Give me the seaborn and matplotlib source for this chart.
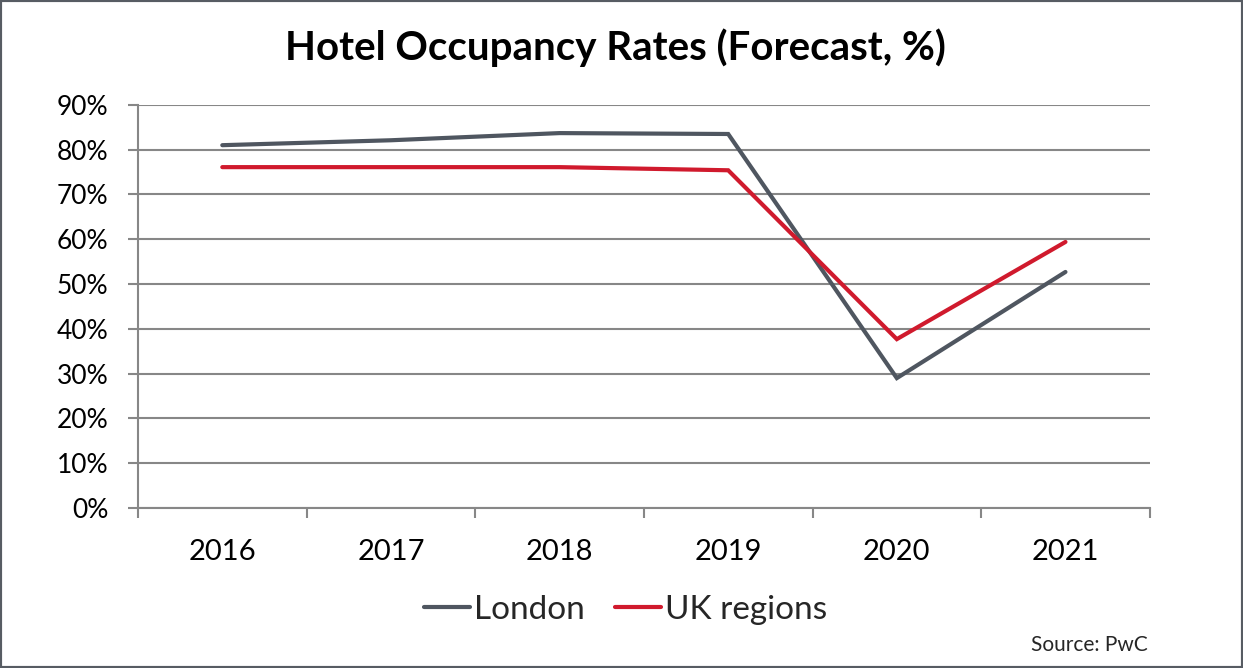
import pandas as pd
import numpy as np
import matplotlib
matplotlib.use('Agg')
from matplotlib import pyplot as plt
from matplotlib.patches import Rectangle
import seaborn as sns

years = ['2016', '2017', '2018', '2019', '2020', '2021']
london = [81.0, 82.1, 83.7, 83.5, 29.0, 52.7]
uk_regions = [76.1, 76.1, 76.1, 75.4, 37.7, 59.4]
y_ticks = [0, 10, 20, 30, 40, 50, 60, 70, 80, 90]

sns.set_style('white')
plt.rcParams['font.family'] = ['Lato', 'DejaVu Sans']

frame = pd.DataFrame({
    'year': years * 2,
    'rate': london + uk_regions,
    'series': ['London'] * len(years) + ['UK regions'] * len(years),
})
frame['pos'] = frame['year'].map({y: i for i, y in enumerate(years)})

grid_col = '#878787'
palette = {'London': '#4f5660', 'UK regions': '#d01a2d'}

fig = plt.figure(figsize=(12.43, 6.68), dpi=100)
ax = fig.add_axes([0.111, 0.2395, 0.814, 0.6035])

sns.lineplot(data=frame, x='pos', y='rate', hue='series', palette=palette,
             linewidth=3, ax=ax, legend=True, solid_capstyle='round',
             solid_joinstyle='miter')

ax.set_xlim(-0.5, len(years) - 0.5)
ax.set_ylim(0, 90)
ax.set_yticks(y_ticks)
ax.set_yticklabels([f'{v}%' for v in y_ticks])
ax.set_xticks(range(len(years)))
ax.set_xticklabels(years)
ax.set_xticks(np.arange(-0.5, len(years), 1), minor=True)
ax.set_xlabel('')
ax.set_ylabel('')

ax.yaxis.grid(True, color=grid_col, linewidth=1.5)
ax.set_axisbelow(True)
for s in ['top', 'right']:
    ax.spines[s].set_visible(False)
for s in ['left', 'bottom']:
    ax.spines[s].set_color(grid_col)
    ax.spines[s].set_linewidth(1.5)

ax.tick_params(axis='y', length=7.2, width=1.5, color=grid_col, pad=14,
               labelsize=19, labelcolor='black', left=True)
ax.tick_params(axis='x', which='major', length=0, pad=22, labelsize=21,
               labelcolor='black')
ax.tick_params(axis='x', which='minor', length=7.2, width=1.5,
               color=grid_col, bottom=True)

handles, labels = ax.get_legend_handles_labels()
ax.legend_.remove()
fig.legend(handles, labels, loc='center', bbox_to_anchor=(0.503, 0.087),
           ncol=2, frameon=False, fontsize=24, handlelength=1.4,
           handletextpad=0.1, columnspacing=0.9)

fig.text(0.495, 0.928, 'Hotel Occupancy Rates (Forecast, %)', ha='center',
         va='center', fontsize=29, fontweight='bold', color='black')
fig.text(0.923, 0.034, 'Source: PwC', ha='right', va='center', fontsize=15)

fig.patches.append(Rectangle((0, 0), 1, 1, transform=fig.transFigure,
                             fill=False, edgecolor='#575c63', linewidth=3))

plt.savefig('out.png', dpi=100)
